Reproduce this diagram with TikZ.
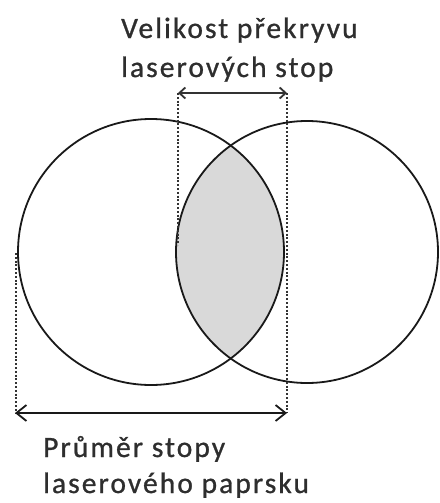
\documentclass[tikz,border=0pt]{standalone}
\usepackage{fontspec}
\setmainfont{Carlito}[LetterSpace=7,FakeBold=0.9]
\usetikzlibrary{arrows.meta}
\begin{document}
\begin{tikzpicture}[x=1pt,y=-1pt,
  ring/.style={draw=black!90,line width=1.8pt},
  guide/.style={draw=black!80,line width=1.6pt,dash pattern=on 2pt off 1.8pt},
  dimtop/.style={draw=black!80,line width=1.8pt,{Straight Barb[length=6pt,width=11pt]}-{Straight Barb[length=6pt,width=11pt]}},
  dimbot/.style={draw=black!90,line width=1.8pt,{Straight Barb[length=10pt,width=16pt]}-{Straight Barb[length=10pt,width=16pt]}},
  lbl/.style={font=\fontsize{29.5}{35}\selectfont,text=black!82,inner sep=0pt,anchor=base west}]
\useasboundingbox (0,0) rectangle (439,503);
\coordinate (cl) at (151,252);
\coordinate (cr) at (307,252);
\begin{scope}
  \clip (cl) circle (133);
  \fill[black!15] (cr) circle (131);
\end{scope}
\draw[ring] (cl) circle (133);
\draw[ring] (cr) circle (131);
% guide lines
\coordinate (ta) at (178,93);
\coordinate (tb) at (287,93);
\coordinate (ba) at (15,413);
\coordinate (bb) at (287,413);
\coordinate (la) at (178,245);
\coordinate (lb) at (16,253);
\coordinate (lc) at (16,413);
\draw[guide] (ta) -- (la);
\draw[guide] (tb) -- (bb);
\draw[guide] (lb) -- (lc);
\draw[dimtop] (ta) -- (tb);
\draw[dimbot] (ba) -- (bb);
\node[lbl] (t1) at (121,38) {Velikost překryvu};
\node[lbl] (t2) at (121,77) {laserových stop};
\node[lbl] (b1) at (43,457) {Průměr stopy};
\node[lbl] (b2) at (43,493) {laserového paprsku};
\end{tikzpicture}
\end{document}
